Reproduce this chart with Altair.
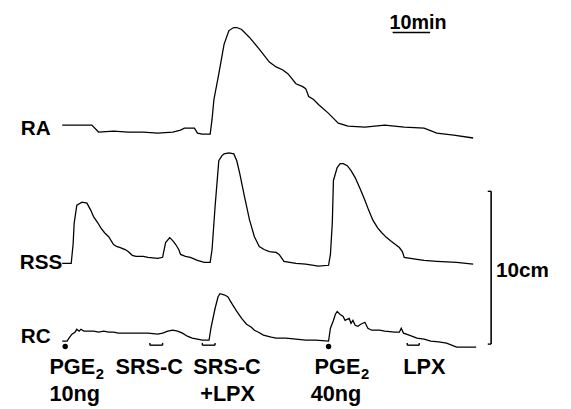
import altair as alt
import pandas as pd

# ---------------- data (time in minutes, deflection in cm above each trace's start level)
ra_t = [0, 7.9, 9.7, 13.7, 17.6, 21.6, 25.5, 29.5, 31.6, 32.6,
        35.3, 36.1, 37.4, 39.5, 40.0, 40.5, 41.8, 43.2, 44.5, 45.8,
        46.6, 47.9, 50.0, 52.6, 55.3, 57.1, 58.9, 60.3, 62.4, 64.2,
        65.0, 65.8, 67.1, 68.4, 71.1, 73.7, 76.3, 80.8, 86.1, 91.3,
        96.6, 100.0, 104.5, 109.7]
ra_v = [0, 0, -0.45, -0.39, -0.45, -0.45, -0.52, -0.45, -0.32, -0.19,
        -0.19, -0.52, -0.58, -0.58, 0.39, 1.68, 3.35, 5.29, 6.19, 6.39,
        6.39, 6.26, 5.74, 4.97, 4.13, 3.81, 3.61, 3.35, 2.71, 2.52,
        2.39, 1.87, 1.68, 1.35, 0.77, 0.13, -0.06, -0.13, 0, -0.13,
        -0.19, -0.52, -0.65, -0.84]

rss_t = [0, 2.4, 2.9, 3.2, 3.9, 5.3, 6.6, 7.6, 8.4, 9.5,
         10.3, 11.3, 12.4, 13.7, 14.5, 15.5, 16.8, 17.6, 18.7, 19.7,
         21.6, 22.9, 25.5, 26.8, 27.1, 27.6, 28.7, 29.5, 30.3, 31.1,
         31.6, 32.9, 34.2, 36.1, 37.9, 39.5, 40.0, 40.8, 41.8, 42.6,
         43.2, 44.5, 45.8, 46.6, 47.4, 48.7, 50.0, 51.3, 52.6, 53.9,
         55.3, 57.1, 57.9, 59.2, 62.4, 65.0, 68.4, 71.1, 71.6, 72.1,
         72.4, 73.4, 74.2, 75.0, 76.1, 77.1, 78.2, 79.5, 80.8, 81.8,
         82.9, 84.2, 85.3, 86.6, 87.9, 90.0, 90.8, 91.3, 94.7, 96.6,
         100.0, 105.3, 109.7]
rss_v = [0, 0, 1.23, 2.65, 3.81, 4.00, 3.94, 3.48, 3.03, 2.65,
         2.32, 2.00, 1.74, 1.23, 1.10, 1.03, 0.90, 0.77, 0.52, 0.45,
         0.45, 0.39, 0.32, 0.39, 0.77, 1.35, 1.68, 1.48, 1.23, 0.90,
         0.58, 0.45, 0.39, 0.19, 0.06, 0.06, 0.90, 3.68, 6.71, 7.03,
         7.16, 7.23, 7.16, 6.71, 5.87, 4.32, 2.84, 1.74, 1.10, 0.90,
         0.77, 0.71, 0.58, 0.13, 0, -0.06, -0.19, -0.13, 0.58, 2.65,
         5.42, 6.26, 6.52, 6.52, 6.39, 6.06, 5.61, 4.90, 4.13, 3.48,
         2.84, 2.32, 2.00, 1.68, 1.42, 1.03, 0.77, 0.39, 0.26, 0.19,
         0.13, 0.06, -0.06]

rc_t = [0, 1.3, 1.8, 2.6, 3.4, 3.9, 4.5, 5.0, 5.8, 7.1,
        8.4, 9.7, 11.1, 12.4, 13.7, 15.0, 17.6, 20.3, 22.9, 25.5,
        26.8, 28.2, 29.5, 30.8, 32.1, 33.4, 34.7, 36.1, 37.4, 39.2,
        39.7, 40.8, 41.6, 42.1, 43.2, 44.2, 45.3, 46.6, 47.9, 49.2,
        50.5, 51.3, 52.4, 53.7, 55.8, 57.1, 59.7, 62.4, 65.0, 67.6,
        71.1, 71.6, 72.4, 72.9, 73.4, 74.2, 75.0, 75.5, 76.6, 77.1,
        77.6, 78.2, 78.9, 79.7, 80.8, 81.6, 82.6, 84.7, 86.1, 88.7,
        90.0, 90.5, 91.1, 92.6, 94.7, 96.6, 98.4, 100.5, 102.6, 105.3,
        107.1, 110.5]
rc_v = [0, 0, 0.19, 0.45, 0.58, 0.77, 0.65, 0.77, 0.65, 0.65,
        0.65, 0.58, 0.65, 0.58, 0.58, 0.52, 0.52, 0.52, 0.52, 0.45,
        0.52, 0.65, 0.71, 0.65, 0.52, 0.32, 0.19, 0.13, 0.06, 0.06,
        0.84, 2.13, 2.90, 3.10, 3.03, 2.90, 2.45, 1.94, 1.48, 1.10,
        0.90, 0.71, 0.58, 0.39, 0.26, 0.19, 0.19, 0.13, 0.06, 0.06,
        0, 0.84, 1.35, 1.74, 1.94, 1.74, 1.61, 1.35, 1.48, 1.16,
        1.35, 1.03, 0.97, 1.10, 1.23, 0.84, 0.71, 0.71, 0.65, 0.58,
        0.58, 0.84, 0.52, 0.39, 0.19, 0.13, 0, -0.06, -0.13, -0.39,
        -0.39, -0.39]

trace_names = ["RA", "RSS", "RC"]

# stimuli (minutes)
bolus_times = [0.8, 71.1]                 # PGE2 10 ng, PGE2 40 ng
infusion_start = [23.4, 37.4, 92.1]       # SRS-C, SRS-C+LPX, LPX
infusion_end = [26.8, 40.8, 95.3]

stim_labels = ["PGE", "SRS-C", "SRS-C", "PGE", "LPX"]
stim_doses = ["10ng", "+LPX", "40ng"]

scale_min = 10    # min
scale_cm = 10     # cm

# ---------------- layout
W, H = 563, 401
PX_MIN, PX_CM = 3.8, 15.5
t_lo = -55 / PX_MIN
t_hi = t_lo + W / PX_MIN
y_hi = H / PX_CM
base = {"RA": 18.39, "RSS": 9.35, "RC": 4.26}

xs = alt.Scale(domain=[t_lo, t_hi], nice=False, zero=False)
ys = alt.Scale(domain=[0, y_hi], nice=False, zero=False)

rows = []
for name, tt, vv in [("RA", ra_t, ra_v), ("RSS", rss_t, rss_v), ("RC", rc_t, rc_v)]:
    for t, v in zip(tt, vv):
        rows.append({"trace": name, "t": t, "y": base[name] + v})
traces_df = pd.DataFrame(rows)

X = lambda f: alt.X(f, type="quantitative", scale=xs, axis=None)
Y = lambda f: alt.Y(f, type="quantitative", scale=ys, axis=None)

traces = alt.Chart(traces_df).mark_line(color="black", strokeWidth=1.3, interpolate="linear").encode(
    x=X("t"), y=Y("y"), detail="trace:N", order="t:Q")

dots_df = pd.DataFrame({"t": bolus_times, "y": [base["RC"] - 0.36] * len(bolus_times)})
dots = alt.Chart(dots_df).mark_circle(color="black", size=30, opacity=1).encode(x=X("t"), y=Y("y"))

br_y = base["RC"] - 0.27
br_df = pd.DataFrame({"t": infusion_start, "t2": infusion_end, "y": br_y, "yt": br_y + 0.15})
br_line = alt.Chart(br_df).mark_rule(color="black", strokeWidth=1.4).encode(
    x=X("t"), x2="t2:Q", y=Y("y"))
br_tick1 = alt.Chart(br_df).mark_rule(color="black", strokeWidth=1.4).encode(
    x=X("t"), y=Y("y"), y2="yt:Q")
br_tick2 = alt.Chart(br_df).mark_rule(color="black", strokeWidth=1.4).encode(
    x=X("t2"), y=Y("y"), y2="yt:Q")

# scale bars
sb_t0 = 88.2
sb_y = 24.45
min_bar = alt.Chart(pd.DataFrame({"t": [sb_t0], "t2": [sb_t0 + scale_min], "y": [sb_y]})).mark_rule(
    color="black", strokeWidth=1.6).encode(x=X("t"), x2="t2:Q", y=Y("y"))
cb_t = 114.5
cb_y0 = 4.06
cm_bar = alt.Chart(pd.DataFrame({"t": [cb_t], "y": [cb_y0], "y2": [cb_y0 + scale_cm]})).mark_rule(
    color="black", strokeWidth=1.6).encode(x=X("t"), y=Y("y"), y2="y2:Q")
cm_ticks = alt.Chart(pd.DataFrame({"t": [cb_t - 0.9] * 2, "t2": [cb_t] * 2,
                                   "y": [cb_y0, cb_y0 + scale_cm]})).mark_rule(
    color="black", strokeWidth=1.4).encode(x=X("t"), x2="t2:Q", y=Y("y"))

# text (plot-pixel positions: left x, baseline y)
txt = pd.DataFrame([
    {"px": 13, "py": 126, "s": 21, "text": "RA"},
    {"px": 12, "py": 262, "s": 21, "text": "RSS"},
    {"px": 13, "py": 337, "s": 21, "text": "RC"},
    {"px": 387, "py": 18, "s": 20, "text": "10min"},
    {"px": 495, "py": 270, "s": 21, "text": "10cm"},
    {"px": 42, "py": 368, "s": 22, "text": stim_labels[0]},
    {"px": 109, "py": 368, "s": 22, "text": stim_labels[1]},
    {"px": 188, "py": 368, "s": 22, "text": stim_labels[2]},
    {"px": 311, "py": 368, "s": 22, "text": stim_labels[3]},
    {"px": 401, "py": 368, "s": 22, "text": stim_labels[4]},
    {"px": 42, "py": 396, "s": 22, "text": stim_doses[0]},
    {"px": 195, "py": 396, "s": 22, "text": stim_doses[1]},
    {"px": 307, "py": 396, "s": 22, "text": stim_doses[2]},
    {"px": 89, "py": 373, "s": 15, "text": "2"},
    {"px": 358, "py": 373, "s": 15, "text": "2"},
])
texts = alt.Chart(txt).mark_text(align="left", baseline="alphabetic", font="Liberation Sans",
                                 fontWeight="bold", color="black").encode(
    x=alt.X("px:Q", scale=None, axis=None), y=alt.Y("py:Q", scale=None, axis=None),
    size=alt.Size("s:Q", scale=None, legend=None), text="text:N")

chart = alt.layer(traces, dots, br_line, br_tick1, br_tick2, min_bar, cm_bar, cm_ticks, texts).properties(
    width=W, height=H, autosize=alt.AutoSizeParams(type="none"), padding=0, background="white"
).configure_view(stroke=None)

chart.save("out.html", embed_options={"renderer": "svg", "actions": False})
